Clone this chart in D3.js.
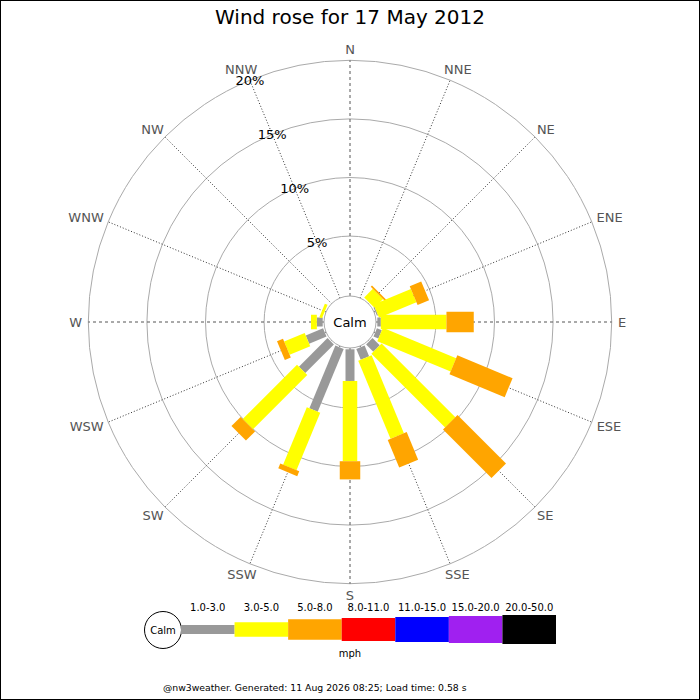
<!DOCTYPE html>
<html><head><meta charset="utf-8">
<script src="https://cdn.jsdelivr.net/npm/d3@7/dist/d3.min.js"></script>
<style>body{margin:0;background:#fff}svg{display:block;font-family:"DejaVu Sans",sans-serif}</style>
</head><body><svg id="c" width="700" height="700"></svg>
<script>
const title = "Wind rose for 17 May 2012";
const footer = "@nw3weather. Generated: 11 Aug 2026 08:25; Load time: 0.58 s";
const directions = ["N","NNE","NE","ENE","E","ESE","SE","SSE","S","SSW","SW","WSW","W","WNW","NW","NNW"];
const speedRanges = ["1.0-3.0","3.0-5.0","5.0-8.0","8.0-11.0","11.0-15.0","15.0-20.0","20.0-50.0"];
const rangeColors = ["#999999","#ffff00","#ffa500","#ff0000","#0000ff","#a020f0","#000000"];
// percentages per direction for each speed range
const speed1to3 = [0,0,0,0.1,0.3,0.45,0.87,1.0,2.7,5.8,3.45,1.6,0.5,0,0,0];
const speed3to5 = [0,0,1.05,3.45,5.6,6.77,8.9,7.2,6.85,5.3,6.55,1.9,0.5,0.25,0,0];
const speed5to8 = [0,0,0.15,1.06,2.33,5.1,5.85,2.55,1.55,0.45,1.1,0.55,0,0,0,0];
const ringTicks = [5,10,15,20];
const unitLabel = "mph";

const series = [speed1to3, speed3to5, speed5to8];
const barWidths = [9,14.5,20.5,23,25,27,29];

const svg = d3.select("#c");
const cx = 350, cy = 322;
const r = d3.scaleLinear().domain([0,20]).range([27.3,261.7]);
const ang = d3.scalePoint().domain(directions).range([0,337.5]);
const rad = d => ang(d)*Math.PI/180;
const pt = (theta, rr, off=0) => [cx + Math.sin(theta)*rr + Math.cos(theta)*off, cy - Math.cos(theta)*rr + Math.sin(theta)*off];

// border
svg.append("rect").attr("x",0.5).attr("y",0.5).attr("width",699).attr("height",699).attr("fill","none").attr("stroke","#000");

// title
svg.append("text").attr("x",350).attr("y",24).attr("text-anchor","middle").attr("font-size",20).text(title);

const g = svg.append("g");
// rings
ringTicks.forEach(t=>{
  g.append("circle").attr("cx",cx).attr("cy",cy).attr("r",r(t)).attr("fill","none").attr("stroke","#aaa").attr("stroke-width",1);
});
// spokes
directions.forEach((d,i)=>{
  const th = rad(d);
  const a = pt(th, 26), b = pt(th, r(20));
  const cardinal = i%4===0;
  g.append("line").attr("x1",a[0]).attr("y1",a[1]).attr("x2",b[0]).attr("y2",b[1])
    .attr("stroke", cardinal?"#555":"#333").attr("stroke-width",1)
    .attr("stroke-dasharray", cardinal?"3,3":"1,2");
});

// bars
const line = d3.line();
directions.forEach((d,i)=>{
  const th = rad(d);
  let cum = 0;
  series.forEach((s,k)=>{
    const v = s[i];
    if (v<=0) return;
    const r1 = r(cum), r2 = r(cum+v);
    cum += v;
    const w = barWidths[k]/2;
    const poly = [pt(th,r1,-w),pt(th,r2,-w),pt(th,r2,w),pt(th,r1,w)];
    g.append("path").attr("d", line(poly)+"Z").attr("fill", rangeColors[k]);
  });
});

// calm circle
g.append("circle").attr("cx",cx).attr("cy",cy).attr("r",26).attr("fill","#fff").attr("stroke","#aaa");
g.append("text").attr("x",cx).attr("y",cy).attr("dy","0.35em").attr("text-anchor","middle").attr("font-size",13).text("Calm");

// ring labels along NNW
const nnw = rad("NNW");
ringTicks.forEach(t=>{
  const p = pt(nnw, r(t));
  g.append("text").attr("x",p[0]).attr("y",p[1]).attr("dy","0.35em").attr("text-anchor","middle").attr("font-size",13).text(t+"%");
});

// direction labels
directions.forEach(d=>{
  const th = rad(d);
  const t = g.append("text").attr("font-size",13).attr("fill","#555").attr("text-anchor","middle").attr("dy","0.35em").text(d);
  const hw = t.node().getComputedTextLength()/2, hh = 5, R = 268;
  t.attr("x", cx + (R+hw)*Math.sin(th)).attr("y", cy - (R+hh)*Math.cos(th));
});

// legend
const lg = svg.append("g");
const lx = d3.scaleBand().domain(speedRanges).range([181,556]);
const ly = 629.5;
lg.append("circle").attr("cx",163).attr("cy",630).attr("r",18.5).attr("fill","#fff").attr("stroke","#000");
lg.append("text").attr("x",163).attr("y",630).attr("dy","0.35em").attr("text-anchor","middle").attr("font-size",10).text("Calm");
speedRanges.forEach((s,k)=>{
  lg.append("rect").attr("x",lx(s)).attr("y",ly-barWidths[k]/2).attr("width",lx.bandwidth()).attr("height",barWidths[k]).attr("fill",rangeColors[k]);
  lg.append("text").attr("x",lx(s)+lx.bandwidth()/2).attr("y",610.5).attr("text-anchor","middle").attr("font-size",10).text(s);
});
lg.append("text").attr("x",350).attr("y",657).attr("text-anchor","middle").attr("font-size",10).text(unitLabel);

// footer
svg.append("text").attr("x",163).attr("y",691).attr("font-size",9.3).text(footer);
</script></body></html>
